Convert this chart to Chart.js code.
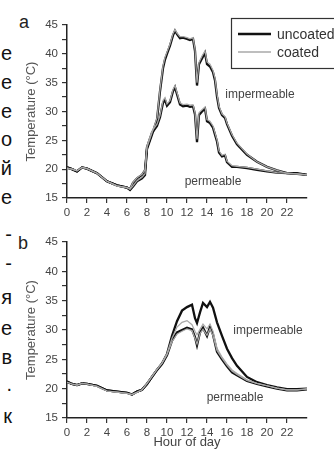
<!DOCTYPE html>
<html>
<head>
<meta charset="utf-8">
<script src="https://cdn.jsdelivr.net/npm/chart.js@4.4.1/dist/chart.umd.min.js"></script>
<style>
  html, body { margin: 0; padding: 0; background: #fff; }
  body { width: 334px; height: 456px; position: relative; overflow: hidden; font-family: "Liberation Sans", Arial, sans-serif; }
  .panel { position: absolute; left: 0; width: 334px; height: 228px; }
  .frag { position: absolute; left: 0; width: 12px; text-align: right; font-size: 20px; line-height: 20px; color: #111; white-space: nowrap; }
  .tag { position: absolute; font-size: 18px; line-height: 18px; color: #222; }
</style>
</head>
<body>
<div id="margen"></div>
<div class="tag" style="left:19px;top:13px;">a</div>
<div class="tag" style="left:18px;top:234px;">b</div>
<div class="panel" style="top:0;"><canvas id="chart-a" width="334" height="228"></canvas></div>
<div class="panel" style="top:228px;"><canvas id="chart-b" width="334" height="228"></canvas></div>
<script>
// --- DATA ---
const hoursA = [0,0.5,1,1.5,2,3,4,5,6,6.3,6.6,7,7.5,7.8,8,8.5,9,9.3,9.6,9.8,10,10.3,10.6,10.8,11,11.3,11.6,12,12.3,12.6,12.8,13,13.2,13.5,13.8,14,14.3,14.6,14.8,15,15.2,15.5,15.8,16,16.5,17,18,19,20,21,22,23,24];
const impA_uncoated = [20.3,20.0,19.6,20.3,20.1,19.3,17.9,17.2,16.8,16.5,17.6,18.4,19.0,19.8,23.5,26.0,28.6,33.5,37.5,39.0,40.0,41.4,43.2,44.0,43.4,42.7,42.8,42.6,42.4,42.6,40.5,34.5,38.2,39.2,40.2,38.2,37.8,36.8,35.4,32.6,30.6,29.4,28.9,27.8,25.8,24.3,22.5,21.3,20.4,19.8,19.3,19.3,19.0];
const impA_coated = [20.2,20.0,19.7,20.3,20.1,19.3,17.9,17.1,16.8,16.6,17.7,18.5,19.1,19.9,23.8,26.3,28.9,33.8,37.9,39.4,40.3,41.7,43.5,44.2,43.6,43.0,43.0,42.8,42.6,42.8,40.8,35.0,38.5,39.6,40.5,38.6,38.2,37.1,35.8,33.0,30.9,29.6,29.1,28.0,26.0,24.5,22.6,21.3,20.4,19.8,19.3,19.2,19.0];
const perA_uncoated = [20.3,20.0,19.6,20.3,20.1,19.3,17.9,17.2,16.8,16.4,17.0,17.9,18.4,19.0,23.8,26.3,27.5,29.0,31.5,32.0,31.0,31.6,33.5,34.2,33.0,31.2,30.9,31.0,30.8,30.9,29.5,24.7,29.4,30.0,30.5,28.3,28.0,27.2,26.0,24.8,22.9,22.2,22.4,21.2,20.4,20.4,20.2,19.9,19.6,19.4,19.3,19.2,19.0];
const perA_coated = [20.2,20.0,19.7,20.3,20.1,19.3,17.9,17.1,16.8,16.5,17.1,18.0,18.6,19.2,24.1,26.6,27.8,29.3,31.9,32.4,31.3,31.9,33.8,34.5,33.3,31.5,31.2,31.3,31.1,31.2,29.8,25.2,29.8,30.3,30.8,28.6,28.3,27.5,26.3,25.1,23.2,22.4,22.6,21.4,20.6,20.5,20.3,20.0,19.7,19.4,19.3,19.2,19.0];

const hoursB = [0,0.5,1,1.5,2,3,4,5,6,6.5,7,7.5,8,8.5,9,9.5,10,10.5,11,11.5,12,12.5,12.8,13,13.3,13.6,14,14.3,14.6,15,15.5,16,16.5,17,18,19,20,21,22,23,24];
const impB_uncoated = [21.2,20.8,20.6,20.9,20.8,20.5,19.7,19.5,19.3,19.0,19.5,19.8,20.8,22.0,23.2,24.3,25.9,29.0,31.5,33.3,33.9,34.3,32.0,31.2,33.0,34.6,33.9,34.8,33.8,31.3,29.0,26.8,25.2,23.9,22.0,21.1,20.6,20.2,19.9,19.9,20.0];
const impB_coated = [21.1,20.8,20.6,20.9,20.8,20.4,19.6,19.4,19.2,19.0,19.4,19.8,20.9,22.1,23.3,24.4,26.0,28.6,30.5,31.3,31.6,30.9,29.8,29.2,30.1,31.0,30.2,31.0,29.8,26.9,25.4,24.2,23.2,22.6,21.5,20.9,20.5,20.1,19.8,19.8,20.0];
const perB_uncoated = [21.2,20.8,20.6,20.9,20.8,20.5,19.7,19.5,19.3,19.0,19.5,19.8,20.8,22.0,23.2,24.2,25.7,28.2,29.6,30.0,30.4,30.1,28.8,27.4,29.6,30.4,29.0,30.5,29.2,26.3,25.0,23.8,22.8,22.3,21.3,20.8,20.4,20.0,19.7,19.7,19.9];
const perB_coated = [21.1,20.8,20.6,20.9,20.8,20.4,19.6,19.4,19.2,19.0,19.4,19.8,20.9,22.1,23.3,24.3,25.8,28.0,29.3,29.8,30.2,29.9,28.6,27.6,29.4,30.1,29.1,30.2,29.0,26.5,25.2,24.0,23.0,22.4,21.4,20.9,20.5,20.1,19.8,19.8,19.9];

const xTicks = [0,2,4,6,8,10,12,14,16,18,20,22];
const yLabels = [15,20,25,30,35,40,45];
const legendLabels = ['uncoated', 'coated'];

// cut-off letters of the neighbouring text column
const marginChars = ['e','e','e','o','й','e','-','-','я','e','в','.','к'];
const marginRows = [54,83,112,140,169,198,235,264,298,329,358,385,417];

const FONT = '"Liberation Sans", Arial, sans-serif';
Chart.defaults.font.family = FONT;
Chart.defaults.color = '#444';

marginChars.forEach((c, i) => {
  const d = document.createElement('div');
  d.className = 'frag'; d.textContent = c; d.style.top = (marginRows[i] - 11) + 'px';
  document.getElementById('margen').appendChild(d);
});

// --- PLUGINS ---
const notesPlugin = {
  id: 'notes',
  afterDatasetsDraw(chart, args, opts) {
    const { ctx, scales: { x, y } } = chart;
    ctx.save();
    ctx.font = '12px ' + FONT; ctx.fillStyle = '#444';
    ctx.textAlign = 'center'; ctx.textBaseline = 'middle';
    (opts.items || []).forEach(n => ctx.fillText(n.text, x.getPixelForValue(n.x), y.getPixelForValue(n.y)));
    ctx.restore();
  }
};

const keyPlugin = {
  id: 'keyBox',
  afterDraw(chart, args, opts) {
    if (!opts.show) return;
    const ctx = chart.ctx;
    const sets = [chart.data.datasets[1], chart.data.datasets[0]]; // black, grey
    ctx.save();
    ctx.strokeStyle = '#333'; ctx.lineWidth = 1.2;
    ctx.strokeRect(231.5, 18.5, 120, 50);
    ctx.font = '14px ' + FONT; ctx.fillStyle = '#333'; ctx.textBaseline = 'middle';
    legendLabels.forEach((lab, i) => {
      const yy = 34 + i * 18;
      ctx.strokeStyle = sets[i].borderColor; ctx.lineWidth = i ? 1.5 : 2.6;
      ctx.beginPath(); ctx.moveTo(238, yy); ctx.lineTo(271, yy); ctx.stroke();
      ctx.fillText(lab, 277, yy + 1);
    });
    ctx.restore();
  }
};

function lineSet(label, hours, vals, grey) {
  return {
    label, data: hours.map((h, i) => ({ x: h, y: vals[i] })),
    borderColor: grey ? '#a8a8a8' : '#111', borderWidth: grey ? 1.2 : 2.3,
    pointRadius: 0, tension: 0, fill: false, order: grey ? 0 : 1
  };
}

function makeChart(id, sets, opt) {
  return new Chart(document.getElementById(id), {
    type: 'line',
    data: { datasets: sets },
    plugins: [notesPlugin, keyPlugin],
    options: {
      responsive: false, animation: false, devicePixelRatio: 1,
      layout: { padding: { top: opt.top, right: 27, bottom: 0, left: 0 } },
      plugins: { legend: { display: false }, tooltip: { enabled: false }, notes: { items: opt.notes }, keyBox: { show: opt.key } },
      scales: {
        x: {
          type: 'linear', min: 0, max: 24,
          afterBuildTicks: s => { s.ticks = xTicks.map(v => ({ value: v })); },
          afterFit: s => { s.height = opt.xHeight; },
          ticks: { autoSkip: false, maxRotation: 0, padding: 3, font: { size: 11.5 }, color: '#444' },
          grid: { drawOnChartArea: false, drawTicks: true, tickLength: 5, tickColor: '#333', lineWidth: 1.2 },
          border: { display: true, color: '#222', width: 1.5 },
          title: { display: !!opt.xTitle, text: opt.xTitle || '', color: '#444', font: { size: 13 }, padding: { top: 0, bottom: 6 } }
        },
        y: {
          min: 15, max: 45,
          afterBuildTicks: s => { const t = []; for (let v = 15; v <= 45; v += 2.5) t.push({ value: v }); s.ticks = t; },
          afterFit: s => { s.width = 67; },
          ticks: { autoSkip: false, padding: 4, font: { size: 11.5 }, color: '#444', callback: v => yLabels.includes(v) ? String(v) : '' },
          grid: { drawOnChartArea: false, drawTicks: true, tickLength: 5, tickColor: '#333', lineWidth: 1.2 },
          border: { display: true, color: '#222', width: 1.5 },
          title: { display: true, text: 'Temperature (°C)', color: '#555', font: { size: 13 }, padding: { top: 24, bottom: 0 } }
        }
      }
    }
  });
}

// --- PANEL a ---
makeChart('chart-a', [
  lineSet('coated impermeable', hoursA, impA_coated, true),
  lineSet('uncoated impermeable', hoursA, impA_uncoated, false),
  lineSet('coated permeable', hoursA, perA_coated, true),
  lineSet('uncoated permeable', hoursA, perA_uncoated, false)
], { top: 25, xHeight: 30, key: true,
     notes: [{ text: 'impermeable', x: 19.3, y: 32.9 }, { text: 'permeable', x: 14.6, y: 17.8 }] });

// --- PANEL b ---
makeChart('chart-b', [
  lineSet('coated impermeable', hoursB, impB_coated, true),
  lineSet('uncoated impermeable', hoursB, impB_uncoated, false),
  lineSet('coated permeable', hoursB, perB_coated, true),
  lineSet('uncoated permeable', hoursB, perB_uncoated, false)
], { top: 14, xHeight: 38, key: false, xTitle: 'Hour of day',
     notes: [{ text: 'impermeable', x: 20.1, y: 29.8 }, { text: 'permeable', x: 16.8, y: 18.5 }] });
</script>
</body>
</html>
